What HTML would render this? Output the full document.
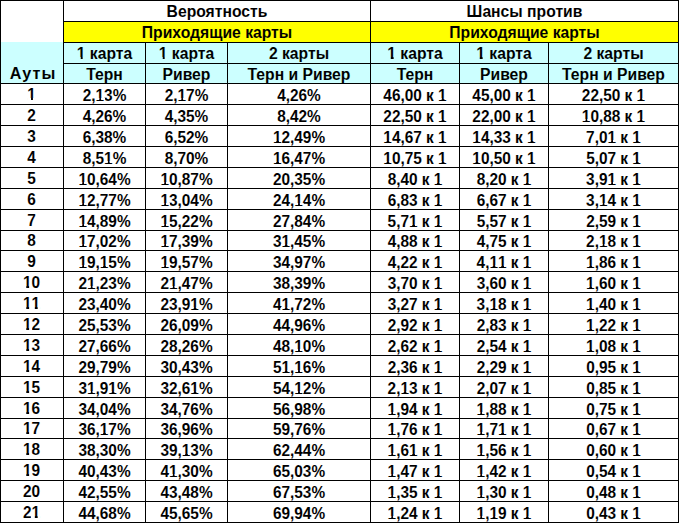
<!DOCTYPE html>
<html><head><meta charset="utf-8">
<style>
html,body{margin:0;padding:0;background:#fff;}
body{width:679px;height:523px;position:relative;overflow:hidden;font-family:"Liberation Sans",sans-serif;}
.b,.l,.t,.d,.a{position:absolute;}
.a{text-align:center;font-weight:bold;font-size:16.2px;color:#000;white-space:nowrap;}
.d{text-align:center;font-weight:bold;font-size:16.2px;color:#000;white-space:nowrap;transform:scaleX(0.95);}
.l{background:#000;}
.t,.d,.a{-webkit-text-stroke:0.05px #fff;}
.t.c,.a.c{-webkit-text-stroke-color:#CCFFFF;}
.t.y{-webkit-text-stroke-color:#FFFF00;}
i{font-style:normal;position:relative;}
i::before,i::after{content:'';position:absolute;bottom:0.2em;height:0.125em;background:#fff;}
i.c::before,i.c::after{background:#CCFFFF;}
i::before{left:-0.02em;width:0.245em;}
i::after{left:0.385em;width:0.215em;}
.t{text-align:center;font-weight:bold;font-size:16.2px;color:#000;white-space:nowrap;transform:scaleX(0.97);}
</style></head><body>
<div class="b" style="left:0px;top:42px;width:63px;height:41px;background:#CCFFFF"></div>
<div class="b" style="left:63px;top:21px;width:615px;height:21px;background:#FFFF00"></div>
<div class="b" style="left:63px;top:42px;width:615px;height:41px;background:#CCFFFF"></div>
<div class="l" style="left:0px;top:0px;width:679px;height:1px"></div>
<div class="l" style="left:0px;top:0px;width:1px;height:523px"></div>
<div class="l" style="left:63px;top:21px;width:616px;height:1px"></div>
<div class="l" style="left:63px;top:42px;width:616px;height:1px"></div>
<div class="l" style="left:63px;top:63px;width:616px;height:1px"></div>
<div class="l" style="left:0px;top:83px;width:679px;height:1px"></div>
<div class="l" style="left:0px;top:104px;width:679px;height:1px"></div>
<div class="l" style="left:0px;top:125px;width:679px;height:1px"></div>
<div class="l" style="left:0px;top:146px;width:679px;height:1px"></div>
<div class="l" style="left:0px;top:167px;width:679px;height:1px"></div>
<div class="l" style="left:0px;top:188px;width:679px;height:1px"></div>
<div class="l" style="left:0px;top:209px;width:679px;height:1px"></div>
<div class="l" style="left:0px;top:230px;width:679px;height:1px"></div>
<div class="l" style="left:0px;top:250px;width:679px;height:1px"></div>
<div class="l" style="left:0px;top:271px;width:679px;height:1px"></div>
<div class="l" style="left:0px;top:292px;width:679px;height:1px"></div>
<div class="l" style="left:0px;top:313px;width:679px;height:1px"></div>
<div class="l" style="left:0px;top:334px;width:679px;height:1px"></div>
<div class="l" style="left:0px;top:355px;width:679px;height:1px"></div>
<div class="l" style="left:0px;top:376px;width:679px;height:1px"></div>
<div class="l" style="left:0px;top:397px;width:679px;height:1px"></div>
<div class="l" style="left:0px;top:418px;width:679px;height:1px"></div>
<div class="l" style="left:0px;top:438px;width:679px;height:1px"></div>
<div class="l" style="left:0px;top:459px;width:679px;height:1px"></div>
<div class="l" style="left:0px;top:480px;width:679px;height:1px"></div>
<div class="l" style="left:0px;top:501px;width:679px;height:1px"></div>
<div class="l" style="left:0px;top:522px;width:679px;height:1px"></div>
<div class="l" style="left:63px;top:0px;width:1px;height:523px"></div>
<div class="l" style="left:678px;top:0px;width:1px;height:523px"></div>
<div class="l" style="left:370px;top:0px;width:1px;height:523px"></div>
<div class="l" style="left:145px;top:42px;width:1px;height:481px"></div>
<div class="l" style="left:227px;top:42px;width:1px;height:481px"></div>
<div class="l" style="left:459px;top:42px;width:1px;height:481px"></div>
<div class="l" style="left:548px;top:42px;width:1px;height:481px"></div>
<div class="t" style="left:64px;top:1px;width:306px;height:20px;line-height:20px">Вероятность</div>
<div class="t" style="left:371px;top:1px;width:307px;height:20px;line-height:20px">Шансы против</div>
<div class="t y" style="left:64px;top:22px;width:306px;height:20px;line-height:20px">Приходящие карты</div>
<div class="t y" style="left:371px;top:22px;width:307px;height:20px;line-height:20px">Приходящие карты</div>
<div class="t c" style="left:64px;top:43px;width:81px;height:20px;line-height:20px"><i class="c">1</i> карта</div>
<div class="t c" style="left:64px;top:64.7px;width:81px;height:19px;line-height:19px">Терн</div>
<div class="t c" style="left:146px;top:43px;width:81px;height:20px;line-height:20px"><i class="c">1</i> карта</div>
<div class="t c" style="left:146px;top:64.7px;width:81px;height:19px;line-height:19px">Ривер</div>
<div class="t c" style="left:228px;top:43px;width:142px;height:20px;line-height:20px">2 карты</div>
<div class="t c" style="left:228px;top:64.7px;width:142px;height:19px;line-height:19px">Терн и Ривер</div>
<div class="t c" style="left:371px;top:43px;width:88px;height:20px;line-height:20px"><i class="c">1</i> карта</div>
<div class="t c" style="left:371px;top:64.7px;width:88px;height:19px;line-height:19px">Терн</div>
<div class="t c" style="left:460px;top:43px;width:88px;height:20px;line-height:20px"><i class="c">1</i> карта</div>
<div class="t c" style="left:460px;top:64.7px;width:88px;height:19px;line-height:19px">Ривер</div>
<div class="t c" style="left:549px;top:43px;width:129px;height:20px;line-height:20px">2 карты</div>
<div class="t c" style="left:549px;top:64.7px;width:129px;height:19px;line-height:19px">Терн и Ривер</div>
<div class="a c" style="left:0px;top:64px;width:63px;height:19px;line-height:19px"><span style="letter-spacing:1px;margin-left:3px">Ауты</span></div>
<div class="d" style="left:0px;top:84px;width:63px;height:20px;line-height:20px"><i>1</i></div>
<div class="d" style="left:64px;top:84.7px;width:81px;height:20px;line-height:20px">2,<i>1</i>3%</div>
<div class="d" style="left:146px;top:84.7px;width:81px;height:20px;line-height:20px">2,<i>1</i>7%</div>
<div class="d" style="left:228px;top:84.7px;width:142px;height:20px;line-height:20px">4,26%</div>
<div class="d" style="left:371px;top:84.7px;width:88px;height:20px;line-height:20px">46,00 к <i>1</i></div>
<div class="d" style="left:460px;top:84.7px;width:88px;height:20px;line-height:20px">45,00 к <i>1</i></div>
<div class="d" style="left:549px;top:84.7px;width:129px;height:20px;line-height:20px">22,50 к <i>1</i></div>
<div class="d" style="left:0px;top:105px;width:63px;height:20px;line-height:20px">2</div>
<div class="d" style="left:64px;top:105.7px;width:81px;height:20px;line-height:20px">4,26%</div>
<div class="d" style="left:146px;top:105.7px;width:81px;height:20px;line-height:20px">4,35%</div>
<div class="d" style="left:228px;top:105.7px;width:142px;height:20px;line-height:20px">8,42%</div>
<div class="d" style="left:371px;top:105.7px;width:88px;height:20px;line-height:20px">22,50 к <i>1</i></div>
<div class="d" style="left:460px;top:105.7px;width:88px;height:20px;line-height:20px">22,00 к <i>1</i></div>
<div class="d" style="left:549px;top:105.7px;width:129px;height:20px;line-height:20px"><i>1</i>0,88 к <i>1</i></div>
<div class="d" style="left:0px;top:126px;width:63px;height:20px;line-height:20px">3</div>
<div class="d" style="left:64px;top:126.7px;width:81px;height:20px;line-height:20px">6,38%</div>
<div class="d" style="left:146px;top:126.7px;width:81px;height:20px;line-height:20px">6,52%</div>
<div class="d" style="left:228px;top:126.7px;width:142px;height:20px;line-height:20px"><i>1</i>2,49%</div>
<div class="d" style="left:371px;top:126.7px;width:88px;height:20px;line-height:20px"><i>1</i>4,67 к <i>1</i></div>
<div class="d" style="left:460px;top:126.7px;width:88px;height:20px;line-height:20px"><i>1</i>4,33 к <i>1</i></div>
<div class="d" style="left:549px;top:126.7px;width:129px;height:20px;line-height:20px">7,0<i>1</i> к <i>1</i></div>
<div class="d" style="left:0px;top:147px;width:63px;height:20px;line-height:20px">4</div>
<div class="d" style="left:64px;top:147.7px;width:81px;height:20px;line-height:20px">8,5<i>1</i>%</div>
<div class="d" style="left:146px;top:147.7px;width:81px;height:20px;line-height:20px">8,70%</div>
<div class="d" style="left:228px;top:147.7px;width:142px;height:20px;line-height:20px"><i>1</i>6,47%</div>
<div class="d" style="left:371px;top:147.7px;width:88px;height:20px;line-height:20px"><i>1</i>0,75 к <i>1</i></div>
<div class="d" style="left:460px;top:147.7px;width:88px;height:20px;line-height:20px"><i>1</i>0,50 к <i>1</i></div>
<div class="d" style="left:549px;top:147.7px;width:129px;height:20px;line-height:20px">5,07 к <i>1</i></div>
<div class="d" style="left:0px;top:168px;width:63px;height:20px;line-height:20px">5</div>
<div class="d" style="left:64px;top:168.7px;width:81px;height:20px;line-height:20px"><i>1</i>0,64%</div>
<div class="d" style="left:146px;top:168.7px;width:81px;height:20px;line-height:20px"><i>1</i>0,87%</div>
<div class="d" style="left:228px;top:168.7px;width:142px;height:20px;line-height:20px">20,35%</div>
<div class="d" style="left:371px;top:168.7px;width:88px;height:20px;line-height:20px">8,40 к <i>1</i></div>
<div class="d" style="left:460px;top:168.7px;width:88px;height:20px;line-height:20px">8,20 к <i>1</i></div>
<div class="d" style="left:549px;top:168.7px;width:129px;height:20px;line-height:20px">3,9<i>1</i> к <i>1</i></div>
<div class="d" style="left:0px;top:189px;width:63px;height:20px;line-height:20px">6</div>
<div class="d" style="left:64px;top:189.7px;width:81px;height:20px;line-height:20px"><i>1</i>2,77%</div>
<div class="d" style="left:146px;top:189.7px;width:81px;height:20px;line-height:20px"><i>1</i>3,04%</div>
<div class="d" style="left:228px;top:189.7px;width:142px;height:20px;line-height:20px">24,<i>1</i>4%</div>
<div class="d" style="left:371px;top:189.7px;width:88px;height:20px;line-height:20px">6,83 к <i>1</i></div>
<div class="d" style="left:460px;top:189.7px;width:88px;height:20px;line-height:20px">6,67 к <i>1</i></div>
<div class="d" style="left:549px;top:189.7px;width:129px;height:20px;line-height:20px">3,<i>1</i>4 к <i>1</i></div>
<div class="d" style="left:0px;top:210px;width:63px;height:20px;line-height:20px">7</div>
<div class="d" style="left:64px;top:210.7px;width:81px;height:20px;line-height:20px"><i>1</i>4,89%</div>
<div class="d" style="left:146px;top:210.7px;width:81px;height:20px;line-height:20px"><i>1</i>5,22%</div>
<div class="d" style="left:228px;top:210.7px;width:142px;height:20px;line-height:20px">27,84%</div>
<div class="d" style="left:371px;top:210.7px;width:88px;height:20px;line-height:20px">5,7<i>1</i> к <i>1</i></div>
<div class="d" style="left:460px;top:210.7px;width:88px;height:20px;line-height:20px">5,57 к <i>1</i></div>
<div class="d" style="left:549px;top:210.7px;width:129px;height:20px;line-height:20px">2,59 к <i>1</i></div>
<div class="d" style="left:0px;top:231px;width:63px;height:19px;line-height:19px">8</div>
<div class="d" style="left:64px;top:231.7px;width:81px;height:19px;line-height:19px"><i>1</i>7,02%</div>
<div class="d" style="left:146px;top:231.7px;width:81px;height:19px;line-height:19px"><i>1</i>7,39%</div>
<div class="d" style="left:228px;top:231.7px;width:142px;height:19px;line-height:19px">3<i>1</i>,45%</div>
<div class="d" style="left:371px;top:231.7px;width:88px;height:19px;line-height:19px">4,88 к <i>1</i></div>
<div class="d" style="left:460px;top:231.7px;width:88px;height:19px;line-height:19px">4,75 к <i>1</i></div>
<div class="d" style="left:549px;top:231.7px;width:129px;height:19px;line-height:19px">2,<i>1</i>8 к <i>1</i></div>
<div class="d" style="left:0px;top:251px;width:63px;height:20px;line-height:20px">9</div>
<div class="d" style="left:64px;top:251.7px;width:81px;height:20px;line-height:20px"><i>1</i>9,<i>1</i>5%</div>
<div class="d" style="left:146px;top:251.7px;width:81px;height:20px;line-height:20px"><i>1</i>9,57%</div>
<div class="d" style="left:228px;top:251.7px;width:142px;height:20px;line-height:20px">34,97%</div>
<div class="d" style="left:371px;top:251.7px;width:88px;height:20px;line-height:20px">4,22 к <i>1</i></div>
<div class="d" style="left:460px;top:251.7px;width:88px;height:20px;line-height:20px">4,<i>1</i><i>1</i> к <i>1</i></div>
<div class="d" style="left:549px;top:251.7px;width:129px;height:20px;line-height:20px"><i>1</i>,86 к <i>1</i></div>
<div class="d" style="left:0px;top:272px;width:63px;height:20px;line-height:20px"><i>1</i>0</div>
<div class="d" style="left:64px;top:272.7px;width:81px;height:20px;line-height:20px">2<i>1</i>,23%</div>
<div class="d" style="left:146px;top:272.7px;width:81px;height:20px;line-height:20px">2<i>1</i>,47%</div>
<div class="d" style="left:228px;top:272.7px;width:142px;height:20px;line-height:20px">38,39%</div>
<div class="d" style="left:371px;top:272.7px;width:88px;height:20px;line-height:20px">3,70 к <i>1</i></div>
<div class="d" style="left:460px;top:272.7px;width:88px;height:20px;line-height:20px">3,60 к <i>1</i></div>
<div class="d" style="left:549px;top:272.7px;width:129px;height:20px;line-height:20px"><i>1</i>,60 к <i>1</i></div>
<div class="d" style="left:0px;top:293px;width:63px;height:20px;line-height:20px"><i>1</i><i>1</i></div>
<div class="d" style="left:64px;top:293.7px;width:81px;height:20px;line-height:20px">23,40%</div>
<div class="d" style="left:146px;top:293.7px;width:81px;height:20px;line-height:20px">23,9<i>1</i>%</div>
<div class="d" style="left:228px;top:293.7px;width:142px;height:20px;line-height:20px">4<i>1</i>,72%</div>
<div class="d" style="left:371px;top:293.7px;width:88px;height:20px;line-height:20px">3,27 к <i>1</i></div>
<div class="d" style="left:460px;top:293.7px;width:88px;height:20px;line-height:20px">3,<i>1</i>8 к <i>1</i></div>
<div class="d" style="left:549px;top:293.7px;width:129px;height:20px;line-height:20px"><i>1</i>,40 к <i>1</i></div>
<div class="d" style="left:0px;top:314px;width:63px;height:20px;line-height:20px"><i>1</i>2</div>
<div class="d" style="left:64px;top:314.7px;width:81px;height:20px;line-height:20px">25,53%</div>
<div class="d" style="left:146px;top:314.7px;width:81px;height:20px;line-height:20px">26,09%</div>
<div class="d" style="left:228px;top:314.7px;width:142px;height:20px;line-height:20px">44,96%</div>
<div class="d" style="left:371px;top:314.7px;width:88px;height:20px;line-height:20px">2,92 к <i>1</i></div>
<div class="d" style="left:460px;top:314.7px;width:88px;height:20px;line-height:20px">2,83 к <i>1</i></div>
<div class="d" style="left:549px;top:314.7px;width:129px;height:20px;line-height:20px"><i>1</i>,22 к <i>1</i></div>
<div class="d" style="left:0px;top:335px;width:63px;height:20px;line-height:20px"><i>1</i>3</div>
<div class="d" style="left:64px;top:335.7px;width:81px;height:20px;line-height:20px">27,66%</div>
<div class="d" style="left:146px;top:335.7px;width:81px;height:20px;line-height:20px">28,26%</div>
<div class="d" style="left:228px;top:335.7px;width:142px;height:20px;line-height:20px">48,<i>1</i>0%</div>
<div class="d" style="left:371px;top:335.7px;width:88px;height:20px;line-height:20px">2,62 к <i>1</i></div>
<div class="d" style="left:460px;top:335.7px;width:88px;height:20px;line-height:20px">2,54 к <i>1</i></div>
<div class="d" style="left:549px;top:335.7px;width:129px;height:20px;line-height:20px"><i>1</i>,08 к <i>1</i></div>
<div class="d" style="left:0px;top:356px;width:63px;height:20px;line-height:20px"><i>1</i>4</div>
<div class="d" style="left:64px;top:356.7px;width:81px;height:20px;line-height:20px">29,79%</div>
<div class="d" style="left:146px;top:356.7px;width:81px;height:20px;line-height:20px">30,43%</div>
<div class="d" style="left:228px;top:356.7px;width:142px;height:20px;line-height:20px">5<i>1</i>,<i>1</i>6%</div>
<div class="d" style="left:371px;top:356.7px;width:88px;height:20px;line-height:20px">2,36 к <i>1</i></div>
<div class="d" style="left:460px;top:356.7px;width:88px;height:20px;line-height:20px">2,29 к <i>1</i></div>
<div class="d" style="left:549px;top:356.7px;width:129px;height:20px;line-height:20px">0,95 к <i>1</i></div>
<div class="d" style="left:0px;top:377px;width:63px;height:20px;line-height:20px"><i>1</i>5</div>
<div class="d" style="left:64px;top:377.7px;width:81px;height:20px;line-height:20px">3<i>1</i>,9<i>1</i>%</div>
<div class="d" style="left:146px;top:377.7px;width:81px;height:20px;line-height:20px">32,6<i>1</i>%</div>
<div class="d" style="left:228px;top:377.7px;width:142px;height:20px;line-height:20px">54,<i>1</i>2%</div>
<div class="d" style="left:371px;top:377.7px;width:88px;height:20px;line-height:20px">2,<i>1</i>3 к <i>1</i></div>
<div class="d" style="left:460px;top:377.7px;width:88px;height:20px;line-height:20px">2,07 к <i>1</i></div>
<div class="d" style="left:549px;top:377.7px;width:129px;height:20px;line-height:20px">0,85 к <i>1</i></div>
<div class="d" style="left:0px;top:398px;width:63px;height:20px;line-height:20px"><i>1</i>6</div>
<div class="d" style="left:64px;top:398.7px;width:81px;height:20px;line-height:20px">34,04%</div>
<div class="d" style="left:146px;top:398.7px;width:81px;height:20px;line-height:20px">34,76%</div>
<div class="d" style="left:228px;top:398.7px;width:142px;height:20px;line-height:20px">56,98%</div>
<div class="d" style="left:371px;top:398.7px;width:88px;height:20px;line-height:20px"><i>1</i>,94 к <i>1</i></div>
<div class="d" style="left:460px;top:398.7px;width:88px;height:20px;line-height:20px"><i>1</i>,88 к <i>1</i></div>
<div class="d" style="left:549px;top:398.7px;width:129px;height:20px;line-height:20px">0,75 к <i>1</i></div>
<div class="d" style="left:0px;top:419px;width:63px;height:19px;line-height:19px"><i>1</i>7</div>
<div class="d" style="left:64px;top:419.7px;width:81px;height:19px;line-height:19px">36,<i>1</i>7%</div>
<div class="d" style="left:146px;top:419.7px;width:81px;height:19px;line-height:19px">36,96%</div>
<div class="d" style="left:228px;top:419.7px;width:142px;height:19px;line-height:19px">59,76%</div>
<div class="d" style="left:371px;top:419.7px;width:88px;height:19px;line-height:19px"><i>1</i>,76 к <i>1</i></div>
<div class="d" style="left:460px;top:419.7px;width:88px;height:19px;line-height:19px"><i>1</i>,7<i>1</i> к <i>1</i></div>
<div class="d" style="left:549px;top:419.7px;width:129px;height:19px;line-height:19px">0,67 к <i>1</i></div>
<div class="d" style="left:0px;top:439px;width:63px;height:20px;line-height:20px"><i>1</i>8</div>
<div class="d" style="left:64px;top:439.7px;width:81px;height:20px;line-height:20px">38,30%</div>
<div class="d" style="left:146px;top:439.7px;width:81px;height:20px;line-height:20px">39,<i>1</i>3%</div>
<div class="d" style="left:228px;top:439.7px;width:142px;height:20px;line-height:20px">62,44%</div>
<div class="d" style="left:371px;top:439.7px;width:88px;height:20px;line-height:20px"><i>1</i>,6<i>1</i> к <i>1</i></div>
<div class="d" style="left:460px;top:439.7px;width:88px;height:20px;line-height:20px"><i>1</i>,56 к <i>1</i></div>
<div class="d" style="left:549px;top:439.7px;width:129px;height:20px;line-height:20px">0,60 к <i>1</i></div>
<div class="d" style="left:0px;top:460px;width:63px;height:20px;line-height:20px"><i>1</i>9</div>
<div class="d" style="left:64px;top:460.7px;width:81px;height:20px;line-height:20px">40,43%</div>
<div class="d" style="left:146px;top:460.7px;width:81px;height:20px;line-height:20px">4<i>1</i>,30%</div>
<div class="d" style="left:228px;top:460.7px;width:142px;height:20px;line-height:20px">65,03%</div>
<div class="d" style="left:371px;top:460.7px;width:88px;height:20px;line-height:20px"><i>1</i>,47 к <i>1</i></div>
<div class="d" style="left:460px;top:460.7px;width:88px;height:20px;line-height:20px"><i>1</i>,42 к <i>1</i></div>
<div class="d" style="left:549px;top:460.7px;width:129px;height:20px;line-height:20px">0,54 к <i>1</i></div>
<div class="d" style="left:0px;top:481px;width:63px;height:20px;line-height:20px">20</div>
<div class="d" style="left:64px;top:481.7px;width:81px;height:20px;line-height:20px">42,55%</div>
<div class="d" style="left:146px;top:481.7px;width:81px;height:20px;line-height:20px">43,48%</div>
<div class="d" style="left:228px;top:481.7px;width:142px;height:20px;line-height:20px">67,53%</div>
<div class="d" style="left:371px;top:481.7px;width:88px;height:20px;line-height:20px"><i>1</i>,35 к <i>1</i></div>
<div class="d" style="left:460px;top:481.7px;width:88px;height:20px;line-height:20px"><i>1</i>,30 к <i>1</i></div>
<div class="d" style="left:549px;top:481.7px;width:129px;height:20px;line-height:20px">0,48 к <i>1</i></div>
<div class="d" style="left:0px;top:502px;width:63px;height:20px;line-height:20px">2<i>1</i></div>
<div class="d" style="left:64px;top:502.7px;width:81px;height:20px;line-height:20px">44,68%</div>
<div class="d" style="left:146px;top:502.7px;width:81px;height:20px;line-height:20px">45,65%</div>
<div class="d" style="left:228px;top:502.7px;width:142px;height:20px;line-height:20px">69,94%</div>
<div class="d" style="left:371px;top:502.7px;width:88px;height:20px;line-height:20px"><i>1</i>,24 к <i>1</i></div>
<div class="d" style="left:460px;top:502.7px;width:88px;height:20px;line-height:20px"><i>1</i>,<i>1</i>9 к <i>1</i></div>
<div class="d" style="left:549px;top:502.7px;width:129px;height:20px;line-height:20px">0,43 к <i>1</i></div>
</body></html>
